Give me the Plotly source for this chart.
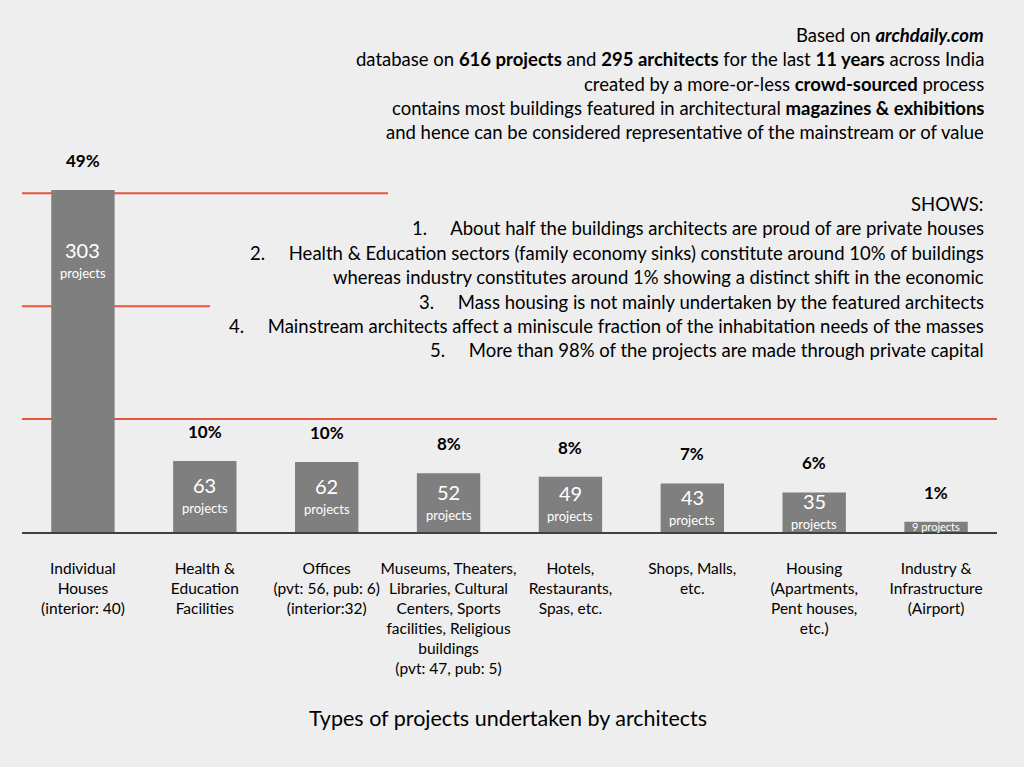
import plotly.graph_objects as go

categories = [
    "Individual<br>Houses<br>(interior: 40)",
    "Health &<br>Education<br>Facilities",
    "Offices<br>(pvt: 56, pub: 6)<br>(interior:32)",
    "Museums, Theaters,<br>Libraries, Cultural<br>Centers, Sports<br>facilities, Religious<br>buildings<br>(pvt: 47, pub: 5)",
    "Hotels,<br>Restaurants,<br>Spas, etc.",
    "Shops, Malls,<br>etc.",
    "Housing<br>(Apartments,<br>Pent houses,<br>etc.)",
    "Industry &<br>Infrastructure<br>(Airport)",
]
projects = [303, 63, 62, 52, 49, 43, 35, 9]
percent_labels = ["49%", "10%", "10%", "8%", "8%", "7%", "6%", "1%"]
gridline_values = [100, 200, 300]

header_lines = [
    "Based on <b><i>archdaily.com</i></b>",
    "database on <b>616 projects</b> and <b>295 architects</b> for the last <b>11 years</b> across India",
    "created by a more-or-less <b>crowd-sourced</b> process",
    "contains most buildings featured in architectural <b>magazines &amp; exhibitions</b>",
    "and hence can be considered representative of the mainstream or of value",
]
shows_lines = [
    "SHOWS:",
    "1.\u00a0\u00a0\u00a0\u00a0\u00a0About half the buildings architects are proud of are private houses",
    "2.\u00a0\u00a0\u00a0\u00a0\u00a0Health &amp; Education sectors (family economy sinks) constitute around 10% of buildings",
    "whereas industry constitutes around 1% showing a distinct shift in the economic",
    "3.\u00a0\u00a0\u00a0\u00a0\u00a0Mass housing is not mainly undertaken by the featured architects",
    "4.\u00a0\u00a0\u00a0\u00a0\u00a0Mainstream architects affect a miniscule fraction of the inhabitation needs of the masses",
    "5.\u00a0\u00a0\u00a0\u00a0\u00a0More than 98% of the projects are made through private capital",
]
title_text = "Types of projects undertaken by architects"

FONT = "Lato"
BG = "#eeeeee"
BAR = "#7f7f7f"
RED = "#e8553f"

fig = go.Figure()
fig.add_trace(go.Bar(
    x=categories, y=projects, marker=dict(color=BAR, line=dict(width=0)),
    hoverinfo="skip",
))

annotations = []
for cat, v, pct in zip(categories, projects, percent_labels):
    annotations.append(dict(x=cat, y=v, xref="x", yref="y", text=f"<b>{pct}</b>",
                            showarrow=False, yanchor="bottom", yshift=17,
                            font=dict(family=FONT, size=17, color="#000000")))
    if v >= 20:
        ymid = max(v / 2, v - 63)
        annotations.append(dict(x=cat, y=ymid, xref="x", yref="y", text=str(v),
                                showarrow=False, yanchor="middle", yshift=11,
                                font=dict(family=FONT, size=20, color="white")))
        annotations.append(dict(x=cat, y=ymid, xref="x", yref="y", text="projects",
                                showarrow=False, yanchor="middle", yshift=-12,
                                font=dict(family=FONT, size=13, color="white")))
    else:
        annotations.append(dict(x=cat, y=v / 2, xref="x", yref="y", text=f"{v} projects",
                                showarrow=False, yanchor="middle",
                                font=dict(family=FONT, size=11, color="white")))

for i, line in enumerate(header_lines):
    annotations.append(dict(x=986, y=35 + i * 24.3, xref="paper", yref="paper", text=line,
                            showarrow=False, xanchor="right", yanchor="middle",
                            font=dict(family=FONT, size=18.5, color="#000000")))
for i, line in enumerate(shows_lines):
    annotations.append(dict(x=986, y=204 + i * 24.4, xref="paper", yref="paper", text=line,
                            showarrow=False, xanchor="right", yanchor="middle",
                            font=dict(family=FONT, size=18.5, color="#000000")))

annotations.append(dict(x=508, y=718, xref="paper", yref="paper", text=title_text,
                        showarrow=False, xanchor="center", yanchor="middle",
                        font=dict(family=FONT, size=21.5, color="#000000")))

W, H = 1024, 767
ML, MR, MT, MB = 22, 27, 150, 235
PW, PH = W - ML - MR, H - MT - MB
for a in annotations:
    if a.get("xref") == "paper":
        a["x"] = (a["x"] - ML) / PW
        a["y"] = 1 - (a["y"] - MT) / PH

shapes = []
extents = {100: 1.0, 200: (210 - ML) / PW, 300: (388 - ML) / PW}
for g in gridline_values:
    shapes.append(dict(type="line", xref="paper", yref="y", x0=0, x1=extents[g], y0=g, y1=g,
                       line=dict(color=RED, width=2), layer="below"))

fig.update_layout(
    width=W, height=H,
    margin=dict(l=ML, r=MR, t=MT, b=MB),
    paper_bgcolor=BG, plot_bgcolor=BG,
    bargap=0.48, showlegend=False,
    annotations=annotations, shapes=shapes,
    font=dict(family=FONT, color="#000000"),
)
fig.update_xaxes(
    type="category", showline=True, linecolor="#404040", linewidth=2,
    ticks="", showgrid=False, zeroline=False, tickangle=0,
    tickfont=dict(family=FONT, size=15.5, color="#000000"),
    ticklabelstandoff=21,
)
fig.update_yaxes(range=[0, 338.4], visible=False, showgrid=False, zeroline=False)

fig.write_html("out.html", config={"displayModeBar": False},
               post_script="document.body.style.margin='0';document.body.style.background='#eeeeee';")
